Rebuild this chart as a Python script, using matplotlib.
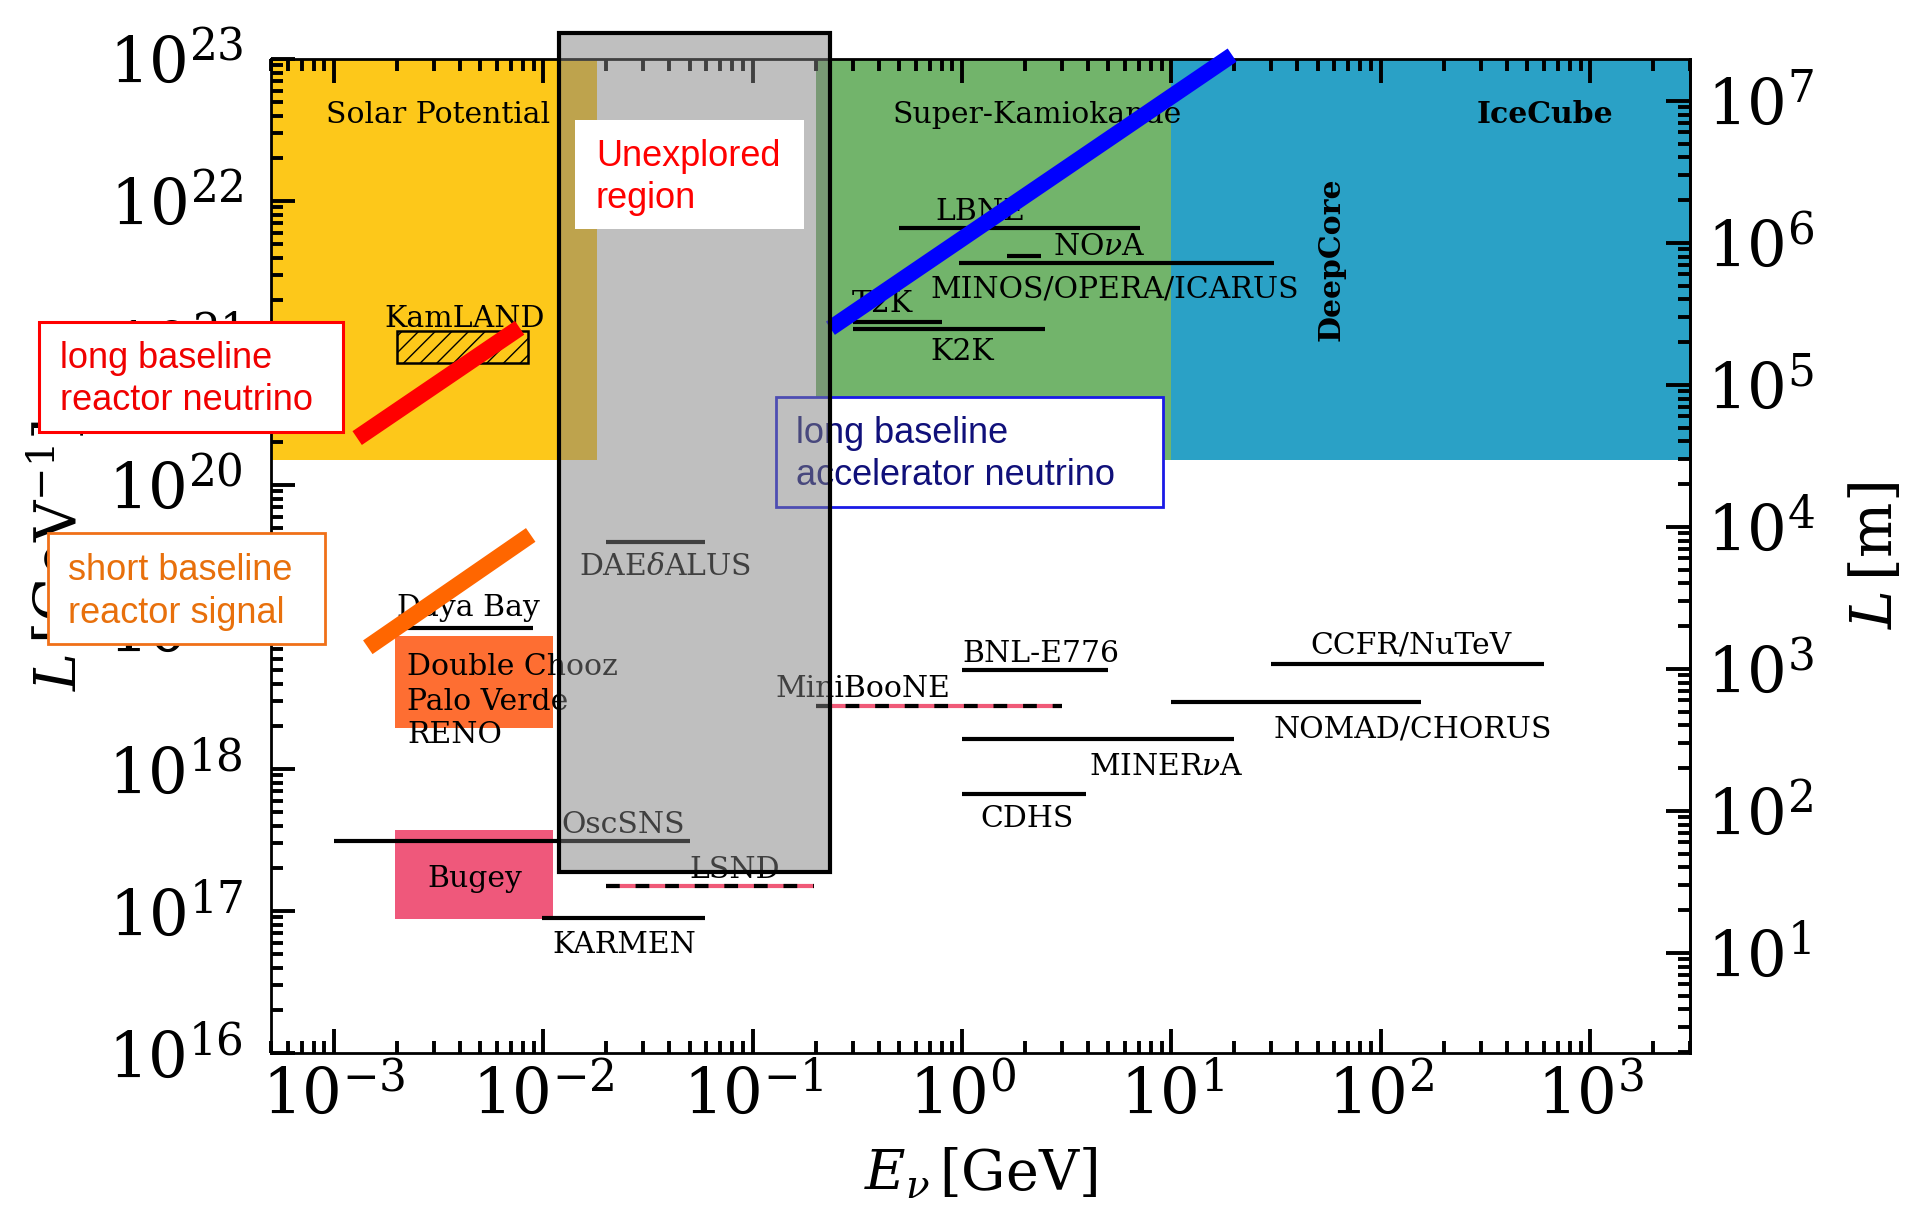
import numpy as np
import matplotlib
matplotlib.use("Agg")
import matplotlib.pyplot as plt
from matplotlib.patches import Rectangle
from matplotlib.ticker import LogLocator, NullFormatter

# 1 m expressed in GeV^-1
GEV_INV_PER_M = 5.068e15

# shaded detector regions (E in GeV, L in GeV^-1)
solar_E = [5e-4, 0.018]
superk_E = [0.2, 10.0]
icecube_E = [10.0, 3e3]
region_L = [1.5e20, 1e23]
unexplored_E = [0.0119, 0.235]
unexplored_L = [1.88e17, 1.52e23]

# constant L/E bands
reactor_long_E = [1.29e-3, 7.7e-3]
reactor_long_L = [2.14e20, 1.28e21]
reactor_short_E = [1.45e-3, 8.7e-3]
reactor_short_L = [7.2e18, 4.45e19]
accel_E = [0.235, 19.5]
accel_L = [1.27e21, 1.065e23]

# experiments shown as horizontal segments
exp_names = ["LBNE", "NOvA", "MINOS/OPERA/ICARUS", "T2K", "K2K", "Daya Bay",
             "OscSNS", "KARMEN", "DAEdALUS", "BNL-E776", "MINERvA", "CDHS",
             "NOMAD/CHORUS", "CCFR/NuTeV"]
exp_Emin = [0.5, 1.64, 0.97, 0.3, 0.3, 2.16e-3, 1e-3, 9.8e-3, 0.02, 1.0, 1.0, 1.0, 10.0, 30.0]
exp_Emax = [7.1, 2.38, 31.0, 0.8, 2.5, 8.9e-3, 0.05, 0.059, 0.059, 5.0, 20.0, 3.9, 156.0, 600.0]
exp_L = [6.5e21, 4.1e21, 3.66e21, 1.41e21, 1.26e21, 9.8e18, 3.1e17, 8.9e16, 4e19,
         5e18, 1.63e18, 6.7e17, 2.96e18, 5.5e18]

# dashed segments (MiniBooNE / LSND)
dashed_names = ["MiniBooNE", "LSND"]
dashed_Emin = [0.2, 0.02]
dashed_Emax = [3.0, 0.196]
dashed_L = [2.78e18, 1.5e17]

# reactor boxes
kamland_E = [2e-3, 8.45e-3]
kamland_L = [7.2e20, 1.22e21]
dchooz_E = [1.95e-3, 1.11e-2]
dchooz_L = [1.95e18, 8.65e18]
bugey_E = [1.95e-3, 1.11e-2]
bugey_L = [8.8e16, 3.72e17]

# experiment labels: text, E, L, ha
labels = [
    ("LBNE", 1.22, 7.35e21, "center"),
    (r"NO$\nu$A", 2.72, 4.17e21, "left"),
    ("MINOS/OPERA/ICARUS", 0.703, 2.08e21, "left"),
    ("T2K", 0.298, 1.65e21, "left"),
    ("K2K", 0.703, 7.59e20, "left"),
    ("KamLAND", 4.22e-3, 1.30e21, "center"),
    ("Daya Bay", 2.0e-3, 1.19e19, "left"),
    ("Double Chooz", 2.23e-3, 4.59e18, "left"),
    ("Palo Verde", 2.23e-3, 2.60e18, "left"),
    ("RENO", 2.23e-3, 1.52e18, "left"),
    ("Bugey", 4.71e-3, 1.48e17, "center"),
    ("OscSNS", 0.024, 3.54e17, "center"),
    ("KARMEN", 0.0243, 5.06e16, "center"),
    (r"DAE$\delta$ALUS", 0.0381, 2.32e19, "center"),
    ("LSND", 0.0822, 1.71e17, "center"),
    ("MiniBooNE", 0.129, 3.21e18, "left"),
    ("BNL-E776", 1.0, 5.68e18, "left"),
    (r"MINER$\nu$A", 4.04, 9.08e17, "left"),
    ("CDHS", 1.22, 3.91e17, "left"),
    ("NOMAD/CHORUS", 30.6, 1.68e18, "left"),
    ("CCFR/NuTeV", 139.0, 6.46e18, "center"),
    ("Solar Potential", 3.14e-3, 3.54e22, "center"),
    ("Super-Kamiokande", 2.28, 3.54e22, "center"),
]

plt.rcParams['font.family'] = 'DejaVu Serif'
plt.rcParams['mathtext.fontset'] = 'dejavuserif'
plt.rcParams['hatch.linewidth'] = 1.0

FIG_W, FIG_H = 1911, 1210
fig = plt.figure(figsize=(FIG_W / 100, FIG_H / 100), dpi=100)
ax = fig.add_axes([271 / FIG_W, 1 - 1053 / FIG_H, (1690 - 271) / FIG_W, (1053 - 59) / FIG_H])
ax.set_xscale('log')
ax.set_yscale('log')

def rect(E, L, **kw):
    return Rectangle((E[0], L[0]), E[1] - E[0], L[1] - L[0], **kw)

ax.add_patch(rect(solar_E, region_L, facecolor='#fdc81a', edgecolor='none', zorder=1))
ax.add_patch(rect(superk_E, region_L, facecolor='#72b46b', edgecolor='none', zorder=1))
ax.add_patch(rect(icecube_E, region_L, facecolor='#2aa1c6', edgecolor='none', zorder=1))
ax.add_patch(rect(dchooz_E, dchooz_L, facecolor='#fe6e32', edgecolor='none', zorder=1.5))
ax.add_patch(rect(bugey_E, bugey_L, facecolor='#ef587b', edgecolor='none', zorder=1.5))
ax.add_patch(rect(kamland_E, kamland_L, facecolor='none', edgecolor='black', hatch='//',
                  linewidth=1.8, zorder=2))

for e0, e1, L in zip(exp_Emin, exp_Emax, exp_L):
    ax.plot([e0, e1], [L, L], color='black', lw=3, solid_capstyle='butt', zorder=3)
for e0, e1, L in zip(dashed_Emin, dashed_Emax, dashed_L):
    ax.plot([e0, e1], [L, L], color='#f05a78', lw=3, solid_capstyle='butt', zorder=3)
    ax.plot([e0, e1], [L, L], color='black', lw=3, dashes=(3.3, 3.8),
            dash_capstyle='butt', zorder=3.1)

for txt, E, L, ha in labels:
    ax.text(E, L, txt, fontsize=21.5, ha=ha, va='baseline', zorder=3.2)
ax.text(608, 3.54e22, "IceCube", fontsize=21.5, fontweight='bold', ha='center', va='baseline', zorder=3.2)
ax.text(57.8, 3.91e21, "DeepCore", fontsize=21.5, fontweight='bold', rotation=90,
        ha='center', va='center', zorder=3.2)

ax.plot(reactor_long_E, reactor_long_L, color='#ff0000', lw=12, solid_capstyle='butt', zorder=4)
ax.plot(reactor_short_E, reactor_short_L, color='#ff6600', lw=12, solid_capstyle='butt', zorder=4)
ax.plot(accel_E, accel_L, color='#0000ff', lw=11.5, solid_capstyle='butt', zorder=4.5, clip_on=False)

# unexplored region box
ax.add_patch(rect(unexplored_E, unexplored_L, facecolor=(0.5, 0.5, 0.5, 0.5),
                  edgecolor='black', linewidth=3, zorder=5, clip_on=False))

ax.set_xlim(5e-4, 3e3)
ax.set_ylim(1e16, 1e23)

# annotation boxes placed in figure pixels
def fbox(x0, y0, x1, y1, ec, lw, z):
    r = Rectangle((x0 / FIG_W, 1 - y1 / FIG_H), (x1 - x0) / FIG_W, (y1 - y0) / FIG_H,
                  transform=fig.transFigure, facecolor='white', edgecolor=ec,
                  linewidth=lw, zorder=z, clip_on=False)
    ax.add_patch(r)

def ftext(x, y, s, color, z):
    ax.text(x / FIG_W, 1 - y / FIG_H, s, transform=fig.transFigure, color=color,
            fontsize=26, family='Liberation Sans', ha='left', va='baseline',
            zorder=z, clip_on=False)

fbox(39, 322, 343, 432, '#ff0000', 2.2, 6)
ftext(60, 368, "long baseline", '#f00000', 6.5)
ftext(60, 410, "reactor neutrino", '#f00000', 6.5)

fbox(48, 533, 325, 644, '#f07018', 2.0, 6)
ftext(68, 580, "short baseline", '#e8700c', 6.5)
ftext(68, 623, "reactor signal", '#e8700c', 6.5)

fbox(776, 397, 1163, 507, '#1a1ae6', 2.0, 4.2)
ftext(796, 443, "long baseline", '#10107a', 4.3)
ftext(796, 485, "accelerator neutrino", '#10107a', 4.3)

fbox(575, 120, 804, 229, 'none', 0, 6)
ftext(596, 166, "Unexplored", '#ff0000', 6.5)
ftext(596, 208, "region", '#ff0000', 6.5)

# axes styling
ax.tick_params(which='both', direction='in', top=True, right=False, width=2.8, labelsize=45)
ax.tick_params(which='major', length=17.5)
ax.tick_params(which='minor', length=8.5)
ax.tick_params(axis='y', pad=20)
ax.tick_params(axis='x', pad=9)
ax.xaxis.set_major_locator(LogLocator(base=10, numticks=20))
ax.xaxis.set_minor_locator(LogLocator(base=10, subs=np.arange(2, 10), numticks=20))
ax.yaxis.set_major_locator(LogLocator(base=10, numticks=20))
ax.yaxis.set_minor_locator(LogLocator(base=10, subs=np.arange(2, 10), numticks=20))
ax.xaxis.set_minor_formatter(NullFormatter())
ax.yaxis.set_minor_formatter(NullFormatter())
for s in ax.spines.values():
    s.set_linewidth(2)

ax.set_xlabel(r"$E_\nu\,[\mathrm{GeV}]$", fontsize=40, labelpad=15)
ax.set_ylabel(r"$L\,[\mathrm{GeV}^{-1}]$", fontsize=41, labelpad=14)

ax2 = ax.twinx()
ax2.set_yscale('log')
ax2.set_ylim(1e16 / GEV_INV_PER_M, 1e23 / GEV_INV_PER_M)
ax2.yaxis.set_major_locator(LogLocator(base=10, numticks=20))
ax2.yaxis.set_minor_locator(LogLocator(base=10, subs=np.arange(2, 10), numticks=20))
ax2.yaxis.set_minor_formatter(NullFormatter())
ax2.tick_params(which='both', direction='in', width=2.8, labelsize=45, pad=12)
ax2.tick_params(which='major', length=17.5)
ax2.tick_params(which='minor', length=8.5)
for side in ['top', 'bottom', 'left']:
    ax2.spines[side].set_visible(False)
ax2.spines['right'].set_linewidth(2)
ax2.set_ylabel(r"$L\,[\mathrm{m}]$", fontsize=42, labelpad=24)

fig.savefig("out.png", dpi=100)
